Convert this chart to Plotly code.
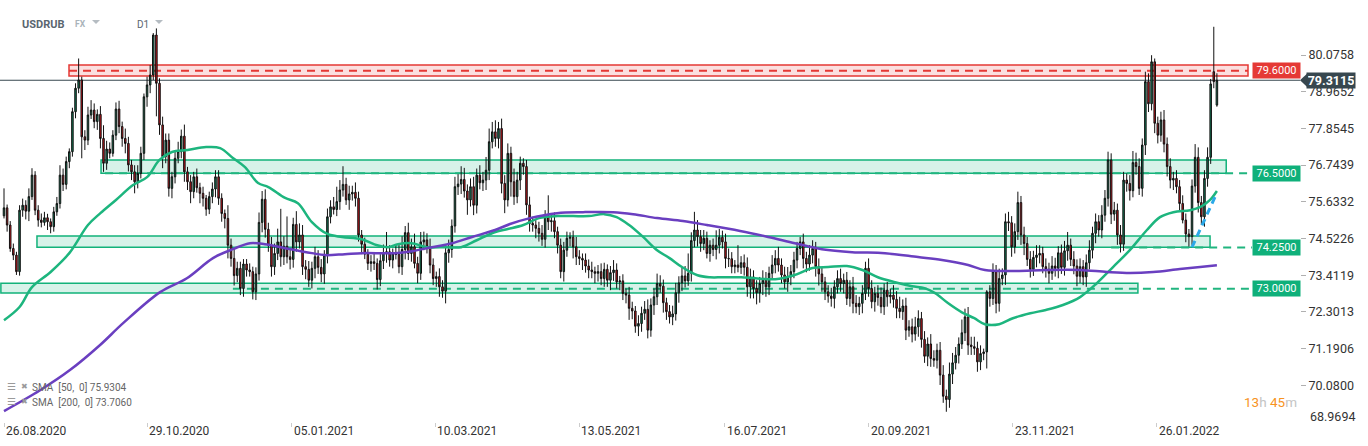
import plotly.graph_objects as go

# ---------------- data (USDRUB, D1) ----------------
closes_2020 = [
    75.45, 74.93, 74.22, 74.02, 73.52, 75.38, 75.53, 75.35, 75.79, 76.44,
    75.38, 75.08, 75.01, 75.15, 75.03, 74.88, 75.33, 75.58, 76.44, 76.16,
    76.85, 77.15, 78.36, 79.07, 79.32, 77.60, 77.50, 78.26, 78.41, 78.06,
    78.28, 77.55, 76.80, 77.23, 77.10, 77.65, 78.44, 77.91, 77.55, 77.40,
    76.75, 76.54, 76.24, 76.49, 77.10, 78.81, 79.17, 79.47, 80.68, 79.22,
    77.96, 77.00, 77.50, 76.04, 76.39, 76.95, 77.15, 77.62, 76.54, 76.24,
    75.94, 76.39, 76.06, 75.89, 75.74, 75.41, 75.79, 76.02, 76.39, 75.74,
    75.28, 75.13, 74.32, 73.92, 73.40, 73.62, 73.01, 73.75]
closes_2021a = [
    73.57, 73.52, 72.91, 73.45, 75.01, 75.71, 74.80, 74.32, 73.67, 74.07,
    74.42, 73.97, 74.29, 73.97, 73.89, 74.95, 74.42, 74.63, 73.67, 73.59,
    73.26, 73.62, 73.97, 73.65, 73.45, 74.02, 75.18, 75.48, 75.40, 75.64,
    75.99, 76.16, 75.69, 75.87, 75.92, 75.74, 74.63, 74.35, 74.05, 73.77,
    73.82, 73.77, 73.28, 73.85, 74.09, 74.12, 73.87, 74.07, 74.04, 73.67,
    74.19, 74.70, 74.07, 74.27, 73.77, 73.47, 74.42, 74.48, 74.27, 73.72,
    73.31, 73.37, 73.06, 72.93, 74.09, 74.19, 74.90, 76.09, 76.17, 76.31,
    75.96, 75.69, 76.09, 75.53, 76.44, 76.21, 76.29, 76.59]
closes_2021b = [
    77.45, 77.75, 77.55, 77.85, 76.19, 75.69, 77.10, 76.24, 75.79, 76.29,
    76.80, 76.70, 75.54, 74.98, 74.93, 74.83, 74.68, 74.50, 75.18, 75.03,
    75.06, 74.73, 74.32, 73.52, 74.17, 74.53, 74.56, 74.27, 73.97, 73.92,
    73.87, 73.69, 73.57, 73.52, 73.47, 73.52, 73.31, 73.59, 73.26, 73.49,
    73.57, 73.21, 73.24, 72.86, 72.81, 72.41, 72.33, 71.87, 71.95, 72.26,
    72.38, 71.75, 72.51, 72.76, 73.16, 73.08, 72.58, 72.31, 72.15, 72.24,
    72.88, 73.18, 73.39, 73.24, 73.47, 74.46, 74.78, 74.58, 74.37, 74.53,
    74.07, 74.32, 74.19, 74.32, 74.56, 74.42, 73.92, 73.91, 73.67]
closes_2021c = [
    73.72, 73.65, 73.79, 73.65, 73.06, 73.36, 73.01, 72.88, 73.16, 73.26,
    73.06, 73.47, 73.72, 73.92, 73.72, 73.42, 73.21, 73.36, 73.52, 73.87,
    74.22, 74.42, 73.92, 73.75, 74.02, 74.22, 73.67, 73.45, 73.21, 72.91,
    72.78, 72.71, 73.06, 73.31, 73.16, 73.26, 72.71, 73.06, 72.56, 72.46,
    72.56, 72.86, 73.62, 73.01, 72.61, 72.86, 72.74, 72.46, 72.96, 72.76,
    72.81, 72.68, 72.41, 72.31, 72.48, 71.75, 71.85, 71.63, 71.85, 72.10,
    71.47, 70.96, 71.33, 70.89, 70.84, 71.14, 70.39, 69.75, 69.65, 70.42,
    70.76, 70.99, 71.33, 71.67, 72.15, 71.30, 71.25, 71.20, 70.79, 71.04]
closes_2022 = [
    71.09, 72.91, 72.71, 73.52, 72.56, 73.31, 73.42, 75.03, 75.00, 74.27,
    74.73, 75.61, 74.63, 74.37, 73.89, 73.59, 73.95, 74.02, 74.07, 73.67,
    73.59, 73.47, 73.69, 73.62, 74.09, 73.65, 74.15, 74.32, 73.89, 73.69,
    73.38, 73.67, 73.36, 73.79, 74.17, 74.68, 75.03, 74.78, 75.23, 75.74,
    76.90, 75.26, 75.38, 74.63, 74.35, 76.29, 76.19, 75.97, 76.82, 76.70,
    76.04, 77.35, 79.27, 78.60, 79.87, 78.01, 77.65, 78.11, 77.38, 76.70,
    76.29, 76.34, 76.09, 75.58, 75.08, 74.66, 74.58, 76.11, 76.98, 75.61,
    75.18, 76.34, 76.98, 79.20, 79.27, 79.3115]
# opens equal the previous close except where a gap is visible
open_overrides = {0: 75.21, 389: 79.57, 390: 78.56}

# wick lengths, in kopecks (0.01 RUB)
upper_wick_2020 = [
    59, 10, 12, 15, 10, 15, 20, 15, 25, 21, 12, 15, 20, 18, 12, 10, 15, 20, 30, 20,
    15, 10, 12, 15, 65, 10, 20, 25, 30, 20, 15, 25, 40, 25, 20, 15, 20, 25, 15, 30,
    20, 15, 20, 25, 20, 10, 25, 30, 6, 20, 15, 25, 20, 20, 15, 20, 30, 20, 35, 15,
    20, 15, 25, 15, 20, 10, 15, 20, 20, 20, 15, 12, 40, 20, 30, 20, 20, 15]
lower_wick_2020 = [
    8, 20, 10, 15, 10, 12, 20, 25, 30, 10, 15, 20, 15, 10, 25, 20, 15, 12, 15, 20,
    15, 20, 15, 20, 15, 65, 30, 15, 12, 20, 25, 30, 26, 20, 15, 10, 15, 20, 25, 30,
    20, 25, 35, 20, 15, 20, 30, 25, 15, 100, 30, 35, 20, 25, 30, 20, 15, 20, 30, 25,
    35, 20, 15, 30, 25, 20, 15, 20, 25, 20, 25, 30, 40, 25, 30, 20, 20, 25]
upper_wick_2021a = [
    15, 20, 15, 20, 30, 25, 30, 20, 25, 30, 40, 100, 30, 90, 25, 20, 40, 35, 30, 20,
    25, 20, 30, 20, 25, 15, 25, 20, 30, 45, 30, 55, 20, 25, 20, 30, 20, 15, 20, 15,
    20, 25, 15, 20, 25, 60, 20, 15, 25, 30, 40, 20, 30, 25, 40, 20, 30, 25, 20, 25,
    20, 15, 25, 20, 25, 30, 20, 30, 30, 40, 35, 20, 25, 30, 20, 30, 25, 40]
lower_wick_2021a = [
    20, 15, 23, 25, 20, 30, 25, 20, 30, 25, 20, 30, 25, 20, 30, 25, 30, 20, 25, 30,
    20, 25, 30, 20, 25, 30, 25, 20, 15, 20, 25, 20, 15, 30, 20, 25, 20, 30, 15, 20,
    25, 20, 30, 20, 25, 30, 20, 25, 15, 20, 25, 30, 20, 25, 15, 30, 20, 25, 20, 25,
    20, 25, 30, 20, 37, 30, 25, 20, 25, 30, 20, 45, 20, 30, 25, 20, 25, 30]
upper_wick_2021b = [
    40, 30, 35, 20, 30, 25, 30, 20, 40, 25, 20, 15, 20, 25, 20, 15, 20, 25, 20, 65,
    20, 25, 15, 20, 25, 20, 15, 20, 30, 20, 15, 20, 20, 25, 15, 20, 25, 20, 15, 20,
    30, 20, 15, 20, 15, 25, 20, 15, 25, 20, 25, 30, 20, 25, 30, 25, 20, 15, 20, 25,
    30, 20, 25, 30, 60, 25, 55, 30, 20, 25, 20, 15, 20, 45, 25, 20, 25, 30, 20]
lower_wick_2021b = [
    30, 20, 25, 30, 30, 40, 20, 45, 25, 20, 30, 25, 30, 25, 20, 30, 25, 20, 25, 25,
    30, 20, 25, 20, 30, 20, 25, 35, 25, 20, 30, 20, 25, 20, 30, 25, 20, 25, 20, 30,
    25, 20, 25, 20, 25, 35, 25, 20, 30, 25, 20, 25, 20, 30, 25, 20, 30, 25, 20, 25,
    20, 30, 25, 20, 15, 25, 20, 30, 25, 20, 15, 25, 20, 30, 25, 20, 30, 25, 20]
upper_wick_2021c = [
    15, 60, 20, 25, 30, 25, 20, 25, 20, 30, 25, 20, 30, 25, 35, 20, 25, 30, 20, 25,
    20, 15, 25, 20, 30, 25, 20, 25, 20, 15, 20, 25, 20, 25, 30, 20, 25, 20, 30, 25,
    20, 25, 20, 30, 25, 20, 25, 30, 20, 25, 20, 30, 25, 35, 20, 25, 20, 25, 30, 25,
    20, 25, 20, 30, 25, 20, 25, 30, 20, 35, 30, 25, 20, 40, 25, 30, 25, 30, 20, 25]
lower_wick_2021c = [
    20, 15, 20, 25, 30, 35, 30, 35, 30, 35, 30, 25, 20, 25, 20, 25, 20, 30, 25, 20,
    25, 20, 30, 25, 20, 25, 30, 35, 30, 25, 20, 25, 30, 20, 25, 30, 20, 25, 30, 20,
    25, 30, 20, 25, 20, 30, 25, 20, 25, 30, 20, 25, 30, 20, 25, 30, 20, 25, 20, 30,
    25, 20, 30, 25, 20, 25, 30, 20, 37, 25, 30, 20, 25, 15, 25, 30, 25, 20, 30, 25]
upper_wick_2022 = [
    10, 5, 20, 25, 20, 30, 20, 25, 30, 20, 25, 33, 20, 25, 20, 25, 20, 30, 25, 20,
    25, 20, 30, 25, 20, 25, 30, 40, 20, 25, 20, 25, 20, 25, 30, 20, 25, 20, 30, 25,
    25, 20, 25, 20, 30, 25, 20, 25, 35, 30, 25, 20, 30, 25, 20, 10, 20, 25, 30, 20,
    25, 20, 25, 20, 25, 20, 15, 20, 40, 30, 20, 25, 30, 15, 136, 21]
lower_wick_2022 = [
    20, 50, 25, 20, 30, 25, 20, 30, 25, 30, 20, 25, 30, 35, 20, 25, 20, 30, 25, 20,
    25, 30, 20, 25, 30, 20, 25, 30, 20, 25, 30, 20, 25, 30, 20, 25, 30, 20, 25, 20,
    25, 30, 20, 30, 25, 20, 25, 30, 20, 25, 20, 25, 30, 25, 20, 30, 25, 20, 25, 30,
    25, 30, 20, 25, 10, 25, 30, 25, 20, 30, 25, 30, 25, 20, 20, 5]

# moving averages (candle index, value)
sma50_idx = [0, 5, 9, 15, 21, 27, 31, 36, 41.5, 46, 50, 54, 59, 65, 69.5, 73.6, 77.5, 81.7, 85, 90.4,
             94.5, 99, 104, 108.7, 115, 120, 123.5, 126.7, 131, 136, 142, 147, 152, 158, 162, 167, 172, 178, 183, 188,
             193, 197, 201, 205.5, 210, 214, 218, 223, 227, 231, 237, 241.5, 248, 254, 260, 265, 271, 276, 281, 286.5,
             292, 296, 299.4, 303.5, 308, 312, 315.4, 320, 324.4, 330, 335, 340.5, 346, 351.4, 356.6, 362, 367.5, 371.7, 376, 381.4,
             384.6, 387.8, 390]
sma50_val = [72.05, 72.45, 73.05, 73.51, 74.08, 74.93, 75.29, 75.69, 76.14, 76.38, 76.90, 77.14, 77.20, 77.29, 77.26, 76.96, 76.68, 76.20, 76.08, 75.75,
             75.59, 75.02, 74.66, 74.57, 74.50, 74.32, 74.26, 74.35, 74.38, 74.26, 74.26, 74.26, 74.47, 74.72, 74.81, 74.93, 75.14, 75.20, 75.20, 75.20,
             75.26, 75.17, 74.93, 74.57, 74.17, 73.93, 73.66, 73.41, 73.35, 73.35, 73.35, 73.32, 73.29, 73.41, 73.63, 73.66, 73.69, 73.57, 73.35, 73.20,
             73.08, 73.02, 72.87, 72.57, 72.29, 72.11, 71.93, 71.93, 72.11, 72.26, 72.36, 72.51, 72.75, 73.17, 73.66, 74.17, 74.78, 75.17, 75.32, 75.38,
             75.47, 75.69, 75.96]
sma200_idx = [0, 11.6, 21.2, 30.9, 38.3, 50.2, 58.8, 67.2, 73.6, 79.1, 83.9, 90.4, 99.0, 103.2, 109.6, 115.1, 125.7, 131.2, 137.6, 144.1,
              150.5, 157.9, 162.7, 169.1, 177.8, 186.2, 195.8, 202.3, 210.0, 218.3, 226.0, 236.7, 245.7, 254.3, 263.0, 272.7, 283.3, 293.9, 301.6, 310.0,
              315.4, 324.4, 335.4, 346.0, 354.7, 362.1, 369.5, 378.1, 384.6, 390]
sma200_val = [69.30, 69.93, 70.54, 71.30, 71.96, 72.90, 73.32, 73.93, 74.20, 74.38, 74.35, 74.23, 74.08, 74.02, 74.05, 74.08, 74.08, 74.14, 74.26, 74.38,
              74.57, 74.78, 74.96, 75.14, 75.29, 75.32, 75.32, 75.26, 75.14, 75.05, 74.93, 74.75, 74.57, 74.38, 74.20, 74.11, 74.08, 73.96, 73.87, 73.72,
              73.57, 73.54, 73.57, 73.57, 73.51, 73.48, 73.51, 73.60, 73.66, 73.71]

# support / resistance zones: (first candle, last candle, low, high)
zone_red = (20.9, 400.0, 79.44, 79.77)
zones_green = [(31.2, 393.0, 76.50, 76.90), (10.6, 387.8, 74.26, 74.60), (-1.0, 364.6, 72.87, 73.17)]
level_red = 79.60
levels_green = [76.50, 74.25, 73.00]
level_green_start = [32.5, 356.0, 73.6]
level_end = 401.3
trend_idx = [382.0, 389.4]
trend_val = [74.26, 75.78]

date_ticks = [0, 46.0, 92.6, 138.6, 184.9, 231.8, 278.1, 324.4, 370.7]
date_labels = ["26.08.2020", "29.10.2020", "05.01.2021", "10.03.2021", "13.05.2021",
               "16.07.2021", "20.09.2021", "23.11.2021", "26.01.2022"]
price_ticks = [70.0800, 71.1906, 72.3013, 73.4119, 74.5226, 75.6332, 76.7439, 77.8545, 78.9652, 80.0758]
price_bottom_label = "68.9694"

# ---------------- build ----------------
closes = closes_2020 + closes_2021a + closes_2021b + closes_2021c + closes_2022
up_w = upper_wick_2020 + upper_wick_2021a + upper_wick_2021b + upper_wick_2021c + upper_wick_2022
dn_w = lower_wick_2020 + lower_wick_2021a + lower_wick_2021b + lower_wick_2021c + lower_wick_2022
n = len(closes)
idx = list(range(n))
opens = [open_overrides.get(i, closes[i - 1] if i > 0 else closes[0]) for i in range(n)]
highs = [max(o, c) + u / 100 for o, c, u in zip(opens, closes, up_w)]
lows = [min(o, c) - d / 100 for o, c, d in zip(opens, closes, dn_w)]
last_price = closes[-1]

W, H = 1368, 446
PL, PR, PT, PB = 0, 68, 0, 24
PW, PH = W - PL - PR, H - PT - PB
X0 = -4 / 3.11
X1 = (PW - 4) / 3.11
Y0, Y1 = 68.97, 81.74


def px(xp):
    return xp / PW


def py(yp):
    return (PH - yp) / PH


GREEN = "#12b27a"
RED = "#e53935"

fig = go.Figure()

shapes = []
# zones
x0, x1, lo, hi = zone_red
shapes.append(dict(type="rect", xref="x", yref="y", x0=x0, x1=x1, y0=lo, y1=hi,
                   fillcolor="rgba(229,57,53,0.16)", line=dict(color=RED, width=1.5), layer="below"))
for (x0, x1, lo, hi) in zones_green:
    shapes.append(dict(type="rect", xref="x", yref="y", x0=x0, x1=x1, y0=lo, y1=hi,
                       fillcolor="rgba(18,178,122,0.17)", line=dict(color=GREEN, width=1.5), layer="below"))
# dashed levels
shapes.append(dict(type="line", xref="x", yref="y", x0=zone_red[0], x1=zone_red[1], y0=level_red, y1=level_red,
                   line=dict(color=RED, width=2, dash="8px,6px"), layer="below"))
for lv, st in zip(levels_green, level_green_start):
    shapes.append(dict(type="line", xref="x", yref="y", x0=st, x1=level_end, y0=lv, y1=lv,
                       line=dict(color="#20b57f", width=2, dash="8px,6px"), layer="below"))
# current price line
shapes.append(dict(type="line", xref="paper", yref="y", x0=0, x1=1, y0=last_price, y1=last_price,
                   line=dict(color="#37474f", width=1.2), layer="below"))
# current price arrow
shapes.append(dict(type="path", xref="paper", yref="y",
                   path=f"M 1.0 {last_price} L {px(PW + 8)} {last_price + 0.23} L {px(PW + 8)} {last_price - 0.23} Z",
                   fillcolor="#37474f", line=dict(width=0)))
# dropdown triangles
for tx in (92, 155):
    shapes.append(dict(type="path", xref="paper", yref="paper",
                       path=f"M {px(tx)} {py(20)} L {px(tx + 8)} {py(20)} L {px(tx + 4)} {py(24)} Z",
                       fillcolor="#b5bcc2", line=dict(width=0)))

fig.add_trace(go.Candlestick(
    x=idx, open=opens, high=highs, low=lows, close=closes,
    increasing=dict(line=dict(color="#111111", width=1), fillcolor="#13805a"),
    decreasing=dict(line=dict(color="#111111", width=1), fillcolor="#d3151b"),
    whiskerwidth=0, hoverinfo="skip", showlegend=False))

fig.add_trace(go.Scatter(x=sma50_idx, y=sma50_val, mode="lines", line=dict(color="#1db57e", width=2.5, shape="spline"),
                         hoverinfo="skip", showlegend=False))
fig.add_trace(go.Scatter(x=sma200_idx, y=sma200_val, mode="lines", line=dict(color="#6a3fc0", width=2.5, shape="spline"),
                         hoverinfo="skip", showlegend=False))
fig.add_trace(go.Scatter(x=trend_idx, y=trend_val, mode="lines", line=dict(color="#2ba9e8", width=3, dash="7px,5px"),
                         hoverinfo="skip", showlegend=False))

ann = []
for t, lab in zip(date_ticks, date_labels):
    ann.append(dict(x=t, xref="x", y=0, yref="paper", yshift=-9, xanchor="left", yanchor="middle",
                    text=lab, showarrow=False, font=dict(size=12, color="#333333")))
ann.append(dict(x=px(PW + 8), xref="paper", y=py(416), yref="paper", xanchor="left", yanchor="middle",
                text=price_bottom_label, showarrow=False, font=dict(size=12.5, color="#333333")))
# level labels
lab_x = px(1276.5)
ann.append(dict(x=lab_x, xref="paper", y=level_red, yref="y", xanchor="center", yanchor="middle",
                text=f"{level_red:.4f}", showarrow=False,
                bgcolor=RED, font=dict(size=11, color="white"), width=45, height=13, borderpad=1))
for lv in levels_green:
    ann.append(dict(x=lab_x, xref="paper", y=lv, yref="y", xanchor="center", yanchor="middle",
                    text=f"{lv:.4f}", showarrow=False,
                    bgcolor="#0fb07a", font=dict(size=11, color="white"), width=45, height=13, borderpad=1))
ann.append(dict(x=px(1331), xref="paper", y=last_price, yref="y", xanchor="center", yanchor="middle",
                text=f"<b>{last_price:.4f}</b>", showarrow=False,
                bgcolor="#37474f", font=dict(size=12.5, color="white"), width=46, height=13, borderpad=1))
# header
ann.append(dict(x=px(20), xref="paper", y=py(24), yref="paper", xanchor="left", yanchor="middle",
                text="<b>USDRUB</b>", showarrow=False, font=dict(size=11, color="#5a666f")))
ann.append(dict(x=px(73), xref="paper", y=py(24), yref="paper", xanchor="left", yanchor="middle",
                text="<b>FX</b>", showarrow=False, font=dict(size=8.5, color="#aab3ba")))
ann.append(dict(x=px(135), xref="paper", y=py(24), yref="paper", xanchor="left", yanchor="middle",
                text="D1", showarrow=False, font=dict(size=10, color="#5a666f")))
# indicator legend
for row_y, txt in ((387, "SMA  [50,  0] 75.9304"), (402, "SMA  [200,  0] 73.7060")):
    ann.append(dict(x=px(5), xref="paper", y=py(row_y - 1), yref="paper", xanchor="left", yanchor="middle",
                    text="☰", showarrow=False, font=dict(family="DejaVu Sans", size=10, color="#9a9a9a")))
    ann.append(dict(x=px(19), xref="paper", y=py(row_y - 1), yref="paper", xanchor="left", yanchor="middle",
                    text="✖", showarrow=False, font=dict(family="DejaVu Sans", size=8, color="#9a9a9a")))
    ann.append(dict(x=px(30), xref="paper", y=py(row_y), yref="paper", xanchor="left", yanchor="middle",
                    text=txt, showarrow=False, font=dict(size=10, color="#666666")))
# countdown
ann.append(dict(x=px(1242), xref="paper", y=py(402), yref="paper", xanchor="left", yanchor="middle",
                text='<span style="color:#f7931e">13</span><span style="color:#c4c4c4">h</span> '
                     '<span style="color:#f7931e">45</span><span style="color:#c4c4c4">m</span>',
                showarrow=False, font=dict(size=13.5)))

fig.update_layout(
    width=W, height=H, margin=dict(l=PL, r=PR, t=PT, b=PB),
    paper_bgcolor="white", plot_bgcolor="white", showlegend=False,
    font=dict(family="Roboto, 'Open Sans', sans-serif"),
    shapes=shapes, annotations=ann, hovermode=False,
    xaxis=dict(range=[X0, X1], showgrid=False, zeroline=False, showline=False,
               tickmode="array", tickvals=date_ticks, ticks="outside", ticklen=4, tickcolor="#cccccc",
               showticklabels=False, rangeslider=dict(visible=False), fixedrange=True),
    yaxis=dict(range=[Y0, Y1], side="right", showgrid=False, zeroline=False, showline=False,
               tickmode="array", tickvals=price_ticks, ticktext=[f"{v:.4f}" for v in price_ticks],
               ticks="outside", ticklen=5, tickcolor="#b0b0b0",
               tickfont=dict(size=12.5, color="#333333"), fixedrange=True),
)

fig.write_html("out.html", config={"displayModeBar": False},
               post_script="document.body.style.margin='0';document.body.style.overflow='hidden';")
